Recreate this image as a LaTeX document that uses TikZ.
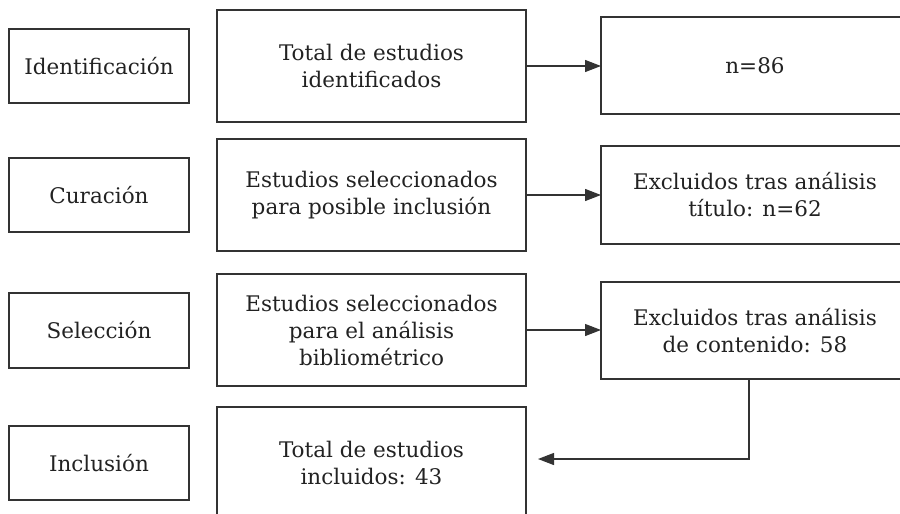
\documentclass[tikz,border=0pt]{standalone}
\usepackage{fontspec}
\setmainfont{DejaVu Serif}
\usetikzlibrary{arrows.meta}
\definecolor{ink}{HTML}{222222}
\definecolor{edge}{HTML}{333333}
\tikzset{
  box/.style={draw=edge, line width=1.3pt, anchor=north west, inner sep=0pt, outer sep=0pt,
    align=center, text=ink, font=\fontsize{21.5}{27}\selectfont},
  arr/.style={draw=edge, line width=1.3pt, -{Triangle[length=16pt,width=12pt]}}
}
\begin{document}
\begin{tikzpicture}[x=1pt,y=-1pt]
\useasboundingbox (0,0) rectangle (900,514);
\clip (0,0) rectangle (900,514);
% left column
\node[box, minimum width=180pt, minimum height=74pt] (l1) at (9,29) {Identificación};
\node[box, minimum width=180pt, minimum height=74pt] (l2) at (9,158) {Curación};
\node[box, minimum width=180pt, minimum height=75pt] (l3) at (9,293) {Selección};
\node[box, minimum width=180pt, minimum height=74pt] (l4) at (9,426) {Inclusión};
% middle column
\node[box, minimum width=309pt, minimum height=112pt] (m1) at (217,10) {Total de estudios\\identificados};
\node[box, minimum width=309pt, minimum height=112pt] (m2) at (217,139) {Estudios seleccionados\\para posible inclusión};
\node[box, minimum width=309pt, minimum height=112pt] (m3) at (217,274) {Estudios seleccionados\\para el análisis\\bibliométrico};
\node[box, minimum width=309pt, minimum height=112pt] (m4) at (217,407) {Total de estudios\\incluidos: 43};
% right column
\node[box, minimum width=308pt, minimum height=97pt] (r1) at (601,17) {n=86};
\node[box, minimum width=308pt, minimum height=98pt] (r2) at (601,146) {Excluidos tras análisis\\título: n=62};
\node[box, minimum width=308pt, minimum height=97pt] (r3) at (601,282) {Excluidos tras análisis\\de contenido: 58};
% connectors
\draw[arr] (m1.east) -- (m1.east -| r1.west);
\draw[arr] (m2.east) -- (m2.east -| r2.west);
\draw[arr] (m3.east) -- (m3.east -| r3.west);
\coordinate (turn) at (749,459);
\coordinate (tip) at (538,459);
\draw[arr] (r3.south -| turn) -- (turn) -- (tip);
\end{tikzpicture}
\end{document}
